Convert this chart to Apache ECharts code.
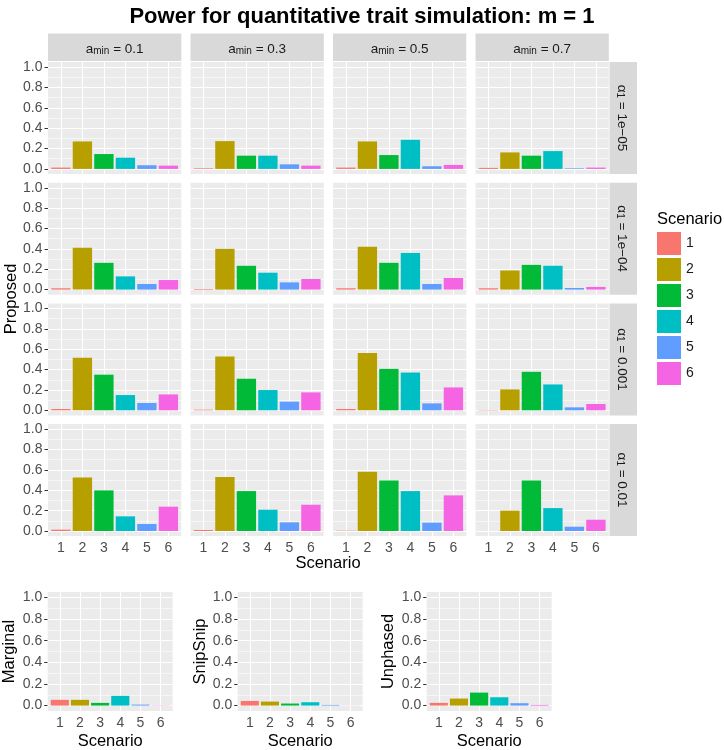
<!DOCTYPE html>
<html>
<head>
<meta charset="utf-8">
<script src="https://cdn.jsdelivr.net/npm/echarts@6/dist/echarts.min.js"></script>
<style>
  html, body { margin: 0; padding: 0; background: #ffffff; }
  #chart { width: 724px; height: 750px; }
</style>
</head>
<body>
<div id="chart"></div>
<script>
// ---------------- DATA ----------------
const scenarios = ['1', '2', '3', '4', '5', '6'];
const aminLabels = ['0.1', '0.3', '0.5', '0.7'];
const alphaLabels = ['1e\u221205', '1e\u221204', '0.001', '0.01'];
const yTickValues = [0, 0.2, 0.4, 0.6, 0.8, 1.0];
const yMinorValues = [0.1, 0.3, 0.5, 0.7, 0.9];

// Proposed power, one array per alpha row; inner arrays = a_min columns (0.1, 0.3, 0.5, 0.7)
const proposed_1e05 = [
  [0.013, 0.270, 0.146, 0.110, 0.036, 0.032],
  [0.006, 0.273, 0.130, 0.130, 0.045, 0.032],
  [0.013, 0.270, 0.136, 0.286, 0.026, 0.039],
  [0.010, 0.162, 0.130, 0.175, 0.006, 0.013]
];
const proposed_1e04 = [
  [0.013, 0.410, 0.263, 0.130, 0.055, 0.094],
  [0.006, 0.400, 0.234, 0.166, 0.071, 0.104],
  [0.013, 0.420, 0.263, 0.360, 0.055, 0.114],
  [0.013, 0.188, 0.243, 0.234, 0.016, 0.026]
];
const proposed_0001 = [
  [0.013, 0.515, 0.350, 0.150, 0.072, 0.156],
  [0.006, 0.528, 0.310, 0.199, 0.085, 0.176],
  [0.013, 0.564, 0.407, 0.371, 0.068, 0.225],
  [0.003, 0.205, 0.378, 0.254, 0.029, 0.062]
];
const proposed_001 = [
  [0.013, 0.526, 0.399, 0.144, 0.069, 0.239],
  [0.010, 0.530, 0.392, 0.209, 0.085, 0.258],
  [0.003, 0.582, 0.497, 0.392, 0.082, 0.350],
  [0.000, 0.200, 0.497, 0.225, 0.042, 0.111]
];
const marginal = [0.053, 0.053, 0.025, 0.090, 0.009, 0.002];
const snipsnip = [0.043, 0.037, 0.019, 0.031, 0.006, 0.001];
const unphased = [0.025, 0.065, 0.120, 0.077, 0.022, 0.006];

const bottomNames = ['Marginal', 'SnipSnip', 'Unphased'];
const bottomData = [marginal, snipsnip, unphased];
const proposedRows = [proposed_1e05, proposed_1e04, proposed_0001, proposed_001];

// ---------------- STYLE / LAYOUT ----------------
const colors = ['#F8766D', '#B79F00', '#00BA38', '#00BFC4', '#619CFF', '#F564E3'];
const FONT = '"Liberation Sans", Arial, Helvetica, sans-serif';
const colL = [48, 190.5, 333, 475.5];
const colW = 133.3;
const rowT = [62, 182.7, 303.4, 424.1];
const rowH = 112;
const botL = [47.7, 237.7, 426.7];
const botT = 592, botW = 125, botH = 119;

const grids = [], xAxes = [], yAxes = [], series = [], graphics = [];

function addPanel(left, top, width, height, values, showX, showY) {
  const g = grids.length;
  grids.push({ left: left, top: top, width: width, height: height, show: true,
    backgroundColor: '#EBEBEB', borderWidth: 0, containLabel: false });
  const xVals = scenarios.map((s, i) => i + 1);
  xAxes.push({
    gridIndex: g, type: 'value', min: 0.4, max: 6.6,
    axisLine: { show: false }, splitLine: { show: false },
    axisTick: { show: showX, customValues: xVals, length: 3.5, lineStyle: { color: '#333333', width: 1 } },
    axisLabel: { show: showX, customValues: xVals, margin: 5.5, color: '#4D4D4D', fontSize: 14, fontFamily: FONT,
      formatter: v => scenarios[Math.round(v) - 1] }
  });
  yAxes.push({
    gridIndex: g, type: 'value', min: -0.05, max: 1.05,
    axisLine: { show: false }, splitLine: { show: false },
    axisTick: { show: showY, customValues: yTickValues, length: 3.5, lineStyle: { color: '#333333', width: 1 } },
    axisLabel: { show: showY, customValues: yTickValues, margin: 5.5, color: '#4D4D4D', fontSize: 14, fontFamily: FONT,
      formatter: v => v.toFixed(1) }
  });
  const bw = 0.9 * width / 6.2;
  const mlData = []
    .concat(yMinorValues.map(v => ({ yAxis: v, lineStyle: { width: 0.55 } })))
    .concat(yTickValues.map(v => ({ yAxis: v, lineStyle: { width: 1.1 } })))
    .concat(xVals.map(v => ({ xAxis: v, lineStyle: { width: 1.1 } })));
  scenarios.forEach((s, i) => {
    const ser = {
      type: 'bar', name: s, xAxisIndex: g, yAxisIndex: g,
      data: [[i + 1, values[i]]], barWidth: bw, barGap: '-100%',
      itemStyle: { color: colors[i] }, z: 3, silent: true, animation: false
    };
    if (i === 0) {
      ser.markLine = {
        silent: true, symbol: ['none', 'none'], label: { show: false }, z: 1, animation: false,
        lineStyle: { color: '#FFFFFF', type: 'solid' }, emphasis: { disabled: true },
        data: mlData
      };
    }
    series.push(ser);
  });
}

for (let r = 0; r < 4; r++) {
  for (let c = 0; c < 4; c++) {
    addPanel(colL[c], rowT[r], colW, rowH, proposedRows[r][c], r === 3, c === 0);
  }
}
for (let b = 0; b < 3; b++) {
  addPanel(botL[b], botT, botW, botH, bottomData[b], true, true);
}

// strips
const stripFill = '#D9D9D9';
const richStrip = {
  n: { fontSize: 13.5, fontFamily: FONT, fill: '#1A1A1A', color: '#1A1A1A', lineHeight: 17, verticalAlign: 'bottom' },
  s: { fontSize: 10, fontFamily: FONT, fill: '#1A1A1A', color: '#1A1A1A', lineHeight: 11, verticalAlign: 'bottom' }
};
aminLabels.forEach((lab, c) => {
  graphics.push({ type: 'rect', silent: true, shape: { x: colL[c], y: 33.5, width: colW, height: 27.5 }, style: { fill: stripFill } });
  graphics.push({ type: 'text', silent: true, x: colL[c] + colW / 2, y: 47.5,
    style: { text: '{n|a}{s|min}{n| = ' + lab + '}', rich: richStrip, align: 'center', verticalAlign: 'middle' } });
});
alphaLabels.forEach((lab, r) => {
  graphics.push({ type: 'rect', silent: true, shape: { x: 609.5, y: rowT[r], width: 27.5, height: rowH }, style: { fill: stripFill } });
  graphics.push({ type: 'text', silent: true, x: 623.5, y: rowT[r] + rowH / 2, rotation: -Math.PI / 2,
    style: { text: '{n|\u03b1}{s|1}{n| = ' + lab + '}', rich: richStrip, align: 'center', verticalAlign: 'middle' } });
});

// axis titles
function txt(t, x, y, size, rot) {
  graphics.push({ type: 'text', silent: true, x: x, y: y, rotation: rot || 0,
    style: { text: t, fill: '#000000', font: size + 'px ' + FONT, align: 'center', verticalAlign: 'middle' } });
}
txt('Proposed', 11, 299, 16.5, Math.PI / 2);
txt('Scenario', 328, 563, 16.5, 0);
bottomNames.forEach((nm, b) => {
  const yx = [9.5, 200, 388][b];
  txt(nm, yx, botT + botH / 2, 16.5, Math.PI / 2);
  txt('Scenario', botL[b] + botW / 2, 741, 16.5, 0);
});
// legend title
graphics.push({ type: 'text', silent: true, x: 657, y: 219,
  style: { text: 'Scenario', fill: '#000000', font: '16.5px ' + FONT, align: 'left', verticalAlign: 'middle' } });
// plot title
graphics.push({ type: 'text', silent: true, x: 362, y: 17,
  style: { text: 'Power for quantitative trait simulation: m = 1', fill: '#000000',
    font: 'bold 22px ' + FONT, align: 'center', verticalAlign: 'middle' } });

const option = {
  animation: false,
  backgroundColor: '#FFFFFF',
  legend: {
    orient: 'vertical', left: 657, top: 232, padding: 0,
    itemWidth: 24, itemHeight: 23, itemGap: 3, icon: 'rect', selectedMode: false,
    data: scenarios,
    textStyle: { fontSize: 14, color: '#1A1A1A', fontFamily: FONT }
  },
  grid: grids,
  xAxis: xAxes,
  yAxis: yAxes,
  series: series,
  graphic: graphics
};

const chart = echarts.init(document.getElementById('chart'), null, { renderer: 'canvas' });
chart.setOption(option);
</script>
</body>
</html>
